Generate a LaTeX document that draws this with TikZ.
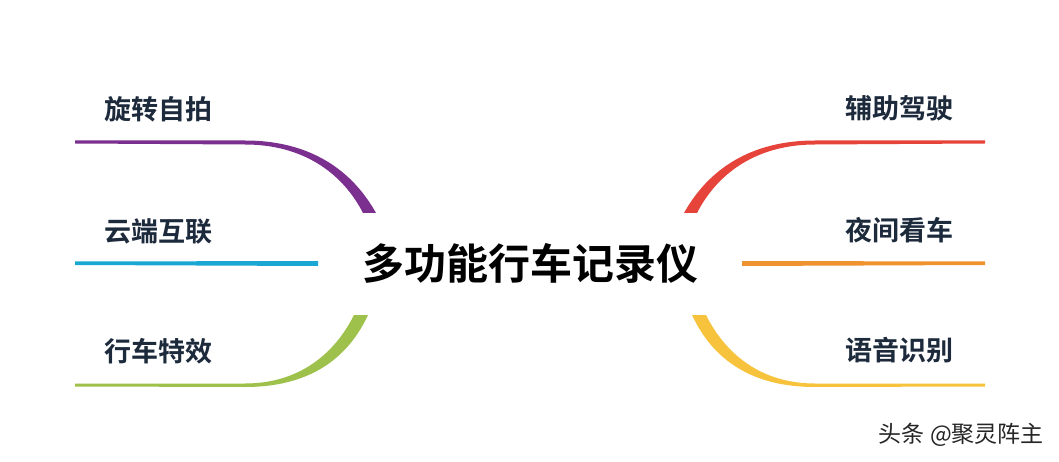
\documentclass[tikz,border=0pt]{standalone}
\usepackage{fontspec}
\setmainfont{Noto Sans CJK SC}[BoldFont={Noto Sans CJK SC Bold}]
\usetikzlibrary{positioning}

\definecolor{labelblue}{HTML}{1C2A3C}
\definecolor{cpurple}{HTML}{7B2F8F}
\definecolor{ccyan}{HTML}{1AA8D3}
\definecolor{cgreen}{HTML}{9DC14B}
\definecolor{cred}{HTML}{E6433A}
\definecolor{corange}{HTML}{EF9230}
\definecolor{cyellow}{HTML}{F7C33D}

\tikzset{
  topic/.style={font=\bfseries\fontsize{27}{30}\selectfont, text=labelblue, inner sep=0pt},
  maintitle/.style={font=\bfseries\fontsize{42}{46}\selectfont, text=black, inner sep=0pt},
  signtext/.style={font=\fontsize{23}{25}\selectfont, text=black!85, inner sep=0pt}
}

\begin{document}
\begin{tikzpicture}[x=1pt, y=-1pt]
    \useasboundingbox[fill=white] (0,0) rectangle (1059,462);

    % centre and topics
    \node[maintitle] (main) at (530,263) {多功能行车记录仪};
    \node[topic, anchor=west] (spin) at (104,109) {旋转自拍};
    \node[topic, anchor=west] (cloud) at (104,231) {云端互联};
    \node[topic, anchor=west] (fx) at (104,351) {行车特效};
    \node[topic, anchor=east] (assist) at (954,108) {辅助驾驶};
    \node[topic, anchor=east] (night) at (954,230) {夜间看车};
    \node[topic, anchor=east] (voice) at (954,350) {语音识别};
    \node[signtext, anchor=east] (sign) at (1044,435) {头条 @聚灵阵主};

    % left branches
    \fill[cpurple] (75,140.5) -- (245,140.5) .. controls (310,140.5) and (352,170) .. (376,213)
      -- (363,213) .. controls (342,172) and (302,144.5) .. (245,144.5) -- (75,143.5) -- cycle;
    \fill[ccyan] (75,261.5) -- (318,261) -- (318,266) -- (75,265) -- cycle;
    \fill[cgreen] (75,383.5) -- (245,383.5) .. controls (298,383.5) and (334,355) .. (354,315)
      -- (368,315) .. controls (347,360) and (308,387) .. (245,387) -- (75,386.5) -- cycle;

    % right branches
    \fill[cred] (985,140.5) -- (815,140.5) .. controls (750,140.5) and (708,170) .. (684,213)
      -- (697,213) .. controls (718,172) and (758,144.5) .. (815,144.5) -- (985,143.5) -- cycle;
    \fill[corange] (742,261) -- (985,261.5) -- (985,265) -- (742,266) -- cycle;
    \fill[cyellow] (985,383.5) -- (815,383.5) .. controls (762,383.5) and (726,355) .. (706,315)
      -- (692,315) .. controls (713,360) and (752,387) .. (815,387) -- (985,386.5) -- cycle;
\end{tikzpicture}
\end{document}
